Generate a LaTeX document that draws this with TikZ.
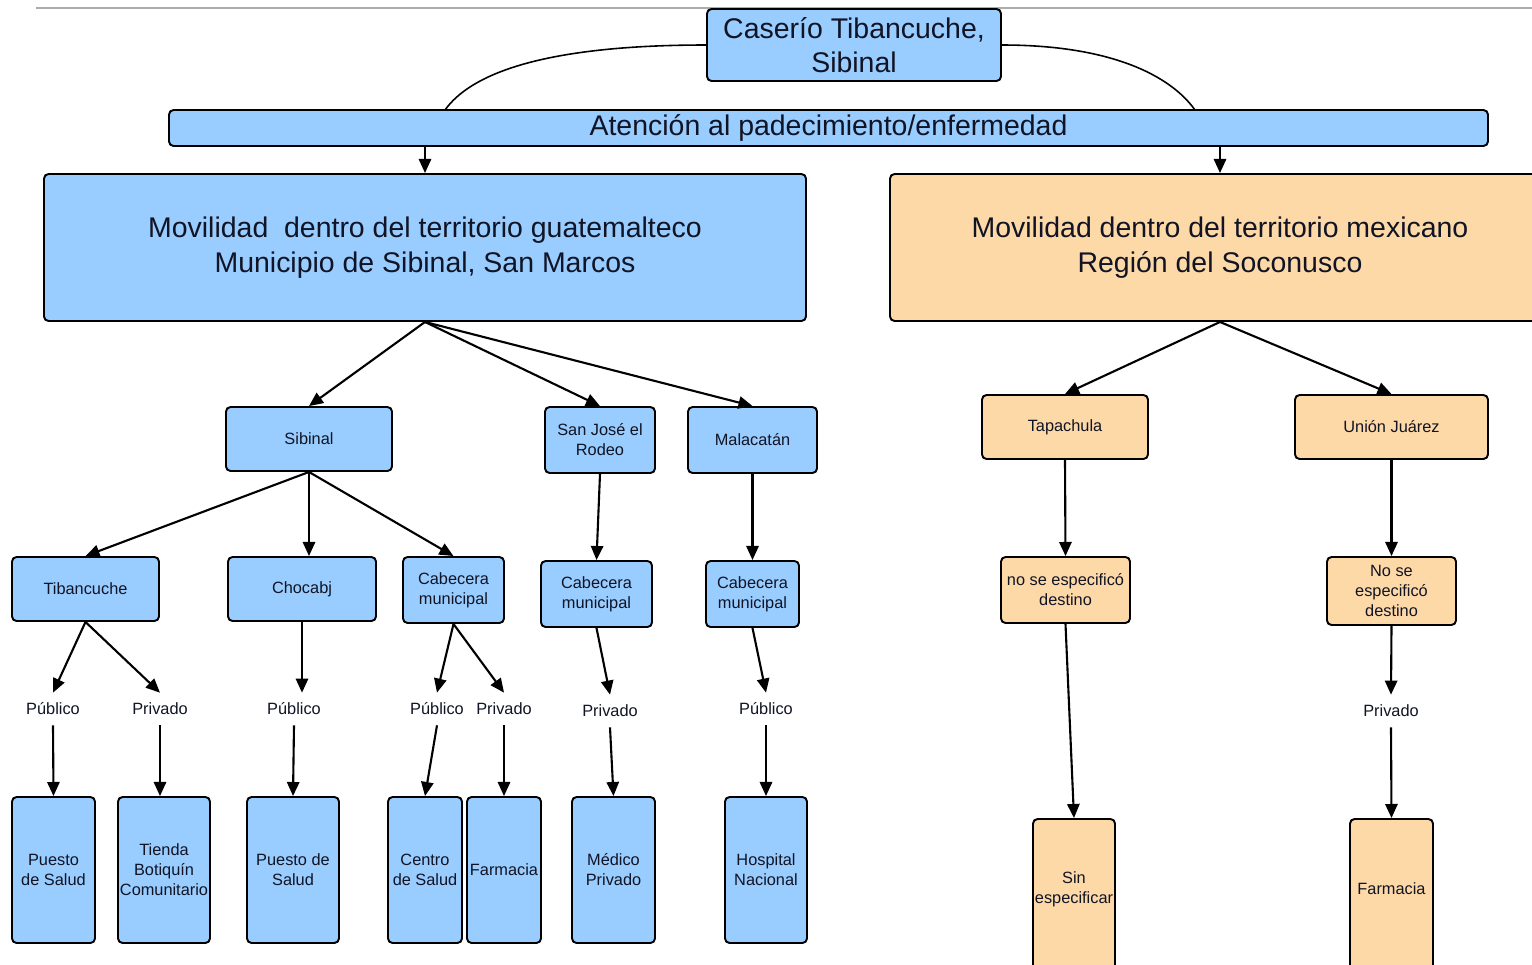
\documentclass[tikz,border=0pt]{standalone}
\usepackage{fontspec}
\setmainfont{Liberation Sans}
\usetikzlibrary{arrows.meta}

\definecolor{boxblue}{RGB}{153,204,255}
\definecolor{boxpeach}{RGB}{254,217,168}
\definecolor{ink}{RGB}{16,20,36}
\definecolor{rulegray}{RGB}{172,172,172}

% box given by its corners (x1,y1)-(x2,y2) in pixel units
\newcommand\pxbox[7]{%
  \node[#6, minimum width={(#4-#2)*0.02cm}, minimum height={(#5-#3)*0.02cm}]
    (#1) at ({(#2+#4)/2},{(#3+#5)/2}) {#7};}
% text lifted above the centre of a box that runs off the page
\newcommand\liftedtext[1]{\raisebox{0pt}[\height][\dimexpr\depth+0.32cm\relax]{#1}}

\tikzset{
  box/.style={draw=black, line width=1.1pt, rounded corners=2.6pt, inner sep=1pt,
              align=center, text=ink},
  bbox/.style={box, fill=boxblue},
  obox/.style={box, fill=boxpeach},
  big/.style={font=\fontsize{16.2}{19.6}\selectfont},
  small/.style={font=\fontsize{9.3}{11.4}\selectfont},
  lab/.style={small, text=ink, inner sep=0pt, minimum height=0.64cm},
  arr/.style={line width=1.2pt, -{Triangle[length=8pt,width=7pt]}},
  link/.style={line width=0.9pt},
}

\begin{document}
\begin{tikzpicture}[x=0.02cm, y=-0.02cm]
\useasboundingbox (0,0) rectangle (1532,964);
\clip (0,0) rectangle (1532,964);

% page rule at the top
\draw[rulegray, line width=1.2pt] (36,8) -- (1532,8);

% root and the common bar
\pxbox{top}{707}{9}{1001}{81}{bbox,big}{Caserío Tibancuche,\\Sibinal}
\pxbox{bar}{169}{110}{1488}{146}{bbox,big}{Atención al padecimiento/enfermedad}
\coordinate (cl) at (445,110);
\coordinate (cr) at (1195,110);
\draw[link] (top.west) .. controls (540,45) and (470,75) .. (cl);
\draw[link] (top.east) .. controls (1110,45) and (1170,75) .. (cr);

% two main branches
\pxbox{gua}{44}{174}{806}{321}{bbox,big}{Movilidad~ dentro del territorio guatemalteco\\Municipio de Sibinal, San Marcos}
\pxbox{mex}{890}{174}{1550}{321}{obox,big}{Movilidad dentro del territorio mexicano\\Región del Soconusco}
\draw[arr] (gua.north |- bar.south) -- (gua.north);
\draw[arr] (mex.north |- bar.south) -- (mex.north);

% Guatemala: municipalities
\pxbox{sib}{226}{407}{392}{471}{bbox,small}{Sibinal}
\pxbox{sjr}{545}{407}{655}{473}{bbox,small}{San José el\\Rodeo}
\pxbox{mal}{688}{407}{817}{473}{bbox,small}{Malacatán}
\draw[arr] (gua.south) -- (sib.north);
\draw[arr] (gua.south) -- (sjr.north);
\draw[arr] (gua.south) -- (mal.north);

% Guatemala: localities
\pxbox{tib}{12}{557}{159}{621}{bbox,small}{Tibancuche}
\pxbox{cho}{228}{557}{376}{621}{bbox,small}{Chocabj}
\pxbox{cabA}{403}{557}{504}{623}{bbox,small}{Cabecera\\municipal}
\pxbox{cabB}{541}{561}{652}{627}{bbox,small}{Cabecera\\municipal}
\pxbox{cabC}{706}{561}{799}{627}{bbox,small}{Cabecera\\municipal}
\draw[arr] (sib.south) -- (tib.north);
\draw[arr] (sib.south) -- (sib.south |- cho.north);
\draw[arr] (sib.south) -- (cabA.north);
\draw[arr] (sjr.south) -- (cabB.north);
\draw[arr] (mal.south) -- (cabC.north);

% sector labels
\node[lab] (pubA) at (53,709) {Público};
\node[lab] (priA) at (160,709) {Privado};
\node[lab] (pubB) at (294,709) {Público};
\node[lab] (pubC) at (437,709) {Público};
\node[lab] (priC) at (504,709) {Privado};
\node[lab] (priD) at (610,711) {Privado};
\node[lab] (pubE) at (766,709) {Público};
\draw[arr] (tib.south) -- (pubA.north);
\draw[arr] (tib.south) -- (priA.north);
\draw[arr] (cho.south) -- (cho.south |- pubB.north);
\draw[arr] (cabA.south) -- (pubC.north);
\draw[arr] (cabA.south) -- (priC.north);
\draw[arr] (cabB.south) -- (priD.north);
\draw[arr] (cabC.south) -- (pubE.north);

% Guatemala: services
\pxbox{psA}{12}{797}{95}{943}{bbox,small}{Puesto\\de Salud}
\pxbox{tie}{118}{797}{210}{943}{bbox,small}{Tienda\\Botiquín\\Comunitario}
\pxbox{psB}{247}{797}{339}{943}{bbox,small}{Puesto de\\Salud}
\pxbox{cen}{388}{797}{462}{943}{bbox,small}{Centro\\de Salud}
\pxbox{farA}{467}{797}{541}{943}{bbox,small}{Farmacia}
\pxbox{med}{572}{797}{655}{943}{bbox,small}{Médico\\Privado}
\pxbox{hos}{725}{797}{807}{943}{bbox,small}{Hospital\\Nacional}
\draw[arr] (pubA.south) -- (psA.north);
\draw[arr] (priA.south) -- (priA.south |- tie.north);
\draw[arr] (pubB.south) -- (psB.north);
\draw[arr] (pubC.south) -- (cen.north);
\draw[arr] (priC.south) -- (farA.north);
\draw[arr] (priD.south) -- (med.north);
\draw[arr] (pubE.south) -- (hos.north);

% Mexico branch
\pxbox{tap}{982}{395}{1148}{459}{obox,small}{Tapachula}
\pxbox{uni}{1295}{395}{1488}{459}{obox,small}{Unión Juárez}
\draw[arr] (mex.south) -- (tap.north);
\draw[arr] (mex.south) -- (uni.north);

\pxbox{noA}{1001}{557}{1130}{623}{obox,small}{no se especificó\\destino}
\pxbox{noB}{1327}{557}{1456}{625}{obox,small}{No se\\especificó\\destino}
\draw[arr] (tap.south) -- (noA.north);
\draw[arr] (uni.south) -- (noB.north);

\node[lab] (priF) at (1391,711) {Privado};
\draw[arr] (noB.south) -- (priF.north);

% last boxes continue below the page edge
\pxbox{sin}{1033}{819}{1115}{975}{obox,small}{\liftedtext{\begin{tabular}{@{}c@{}}Sin\\especificar\end{tabular}}}
\pxbox{farB}{1350}{819}{1433}{975}{obox,small}{\liftedtext{Farmacia}}
\draw[arr] (noA.south) -- (sin.north);
\draw[arr] (priF.south) -- (farB.north);
\end{tikzpicture}
\end{document}
